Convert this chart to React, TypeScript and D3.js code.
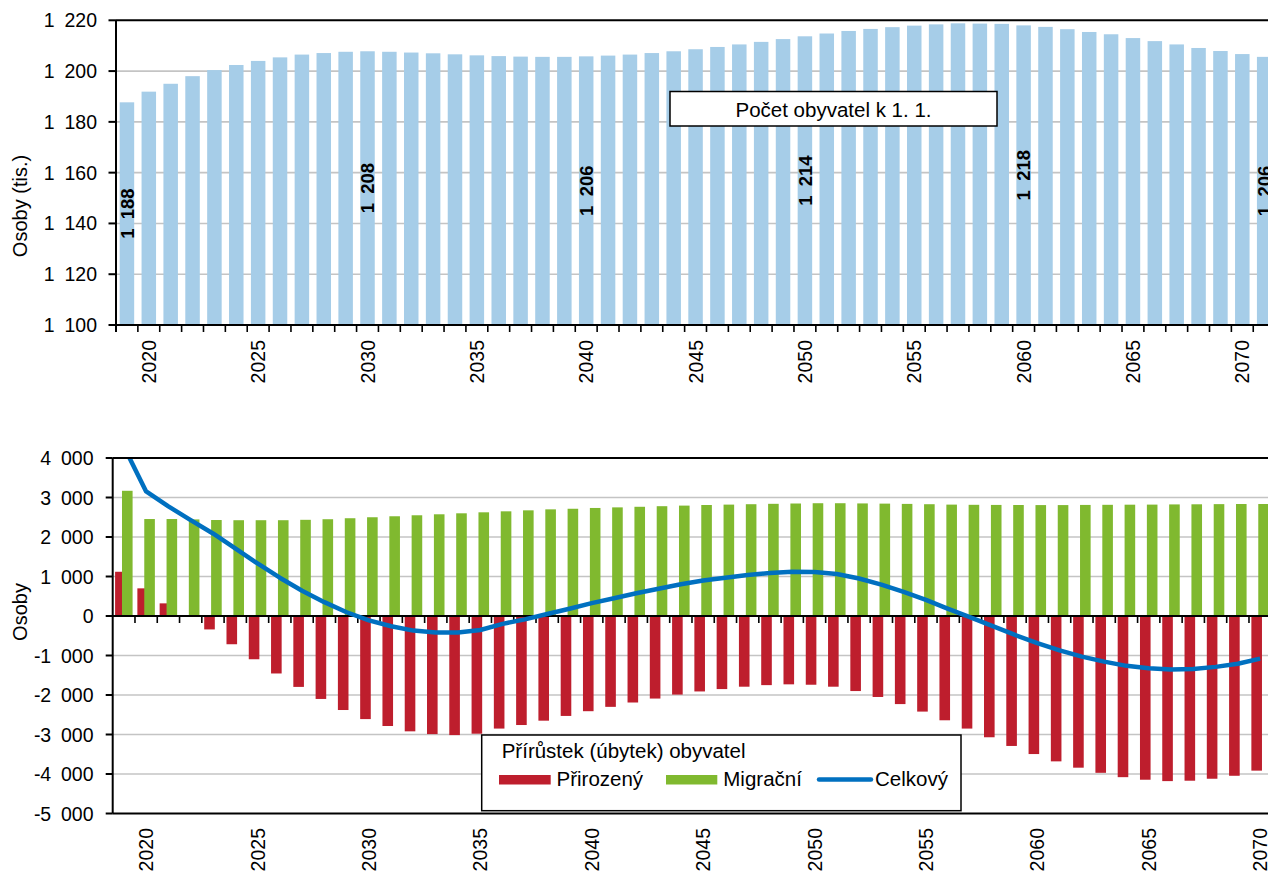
import React from 'react';
import * as d3 from 'd3';

// ---------- DATA ----------
const topYears = [2019, 2020, 2021, 2022, 2023, 2024, 2025, 2026, 2027, 2028, 2029, 2030, 2031, 2032, 2033, 2034, 2035, 2036, 2037, 2038, 2039, 2040, 2041, 2042, 2043, 2044, 2045, 2046, 2047, 2048, 2049, 2050, 2051, 2052, 2053, 2054, 2055, 2056, 2057, 2058, 2059, 2060, 2061, 2062, 2063, 2064, 2065, 2066, 2067, 2068, 2069, 2070, 2071];
// population on 1 Jan (thousands)
const population = [1187.7, 1191.9, 1195.0, 1198.0, 1200.4, 1202.4, 1204.0, 1205.4, 1206.5, 1207.1, 1207.6, 1207.8, 1207.6, 1207.3, 1207.0, 1206.6, 1206.2, 1205.9, 1205.7, 1205.6, 1205.6, 1205.8, 1206.1, 1206.5, 1207.1, 1207.8, 1208.6, 1209.5, 1210.5, 1211.5, 1212.6, 1213.7, 1214.8, 1215.8, 1216.6, 1217.3, 1217.9, 1218.4, 1218.8, 1218.7, 1218.6, 1218.0, 1217.4, 1216.5, 1215.4, 1214.5, 1213.0, 1211.8, 1210.5, 1209.1, 1207.9, 1206.7, 1205.6];
const labelledYears = [2019, 2030, 2040, 2050, 2060, 2071];
const topTicks = [1100, 1120, 1140, 1160, 1180, 1200, 1220];

const bottomYears = [2019, 2020, 2021, 2022, 2023, 2024, 2025, 2026, 2027, 2028, 2029, 2030, 2031, 2032, 2033, 2034, 2035, 2036, 2037, 2038, 2039, 2040, 2041, 2042, 2043, 2044, 2045, 2046, 2047, 2048, 2049, 2050, 2051, 2052, 2053, 2054, 2055, 2056, 2057, 2058, 2059, 2060, 2061, 2062, 2063, 2064, 2065, 2066, 2067, 2068, 2069, 2070];
const naturalChange = [1120, 700, 320, -20, -340, -715, -1095, -1455, -1795, -2100, -2380, -2610, -2785, -2920, -2990, -3015, -2980, -2850, -2760, -2650, -2530, -2410, -2300, -2190, -2090, -1990, -1910, -1850, -1790, -1750, -1730, -1740, -1790, -1900, -2050, -2230, -2420, -2640, -2850, -3070, -3290, -3495, -3680, -3840, -3970, -4080, -4145, -4180, -4170, -4120, -4045, -3915];
const migrationChange = [3170, 2455, 2455, 2445, 2430, 2425, 2425, 2425, 2435, 2450, 2475, 2500, 2525, 2550, 2575, 2600, 2625, 2650, 2675, 2700, 2715, 2735, 2750, 2765, 2780, 2795, 2810, 2820, 2830, 2840, 2848, 2855, 2855, 2850, 2845, 2838, 2830, 2820, 2815, 2812, 2810, 2808, 2808, 2812, 2815, 2818, 2820, 2825, 2828, 2832, 2835, 2835];
const totalChange = [4290, 3155, 2775, 2425, 2090, 1710, 1330, 970, 640, 350, 95, -110, -260, -370, -415, -415, -355, -200, -85, 50, 185, 325, 450, 575, 690, 805, 900, 970, 1040, 1090, 1118, 1115, 1065, 950, 795, 608, 410, 180, -35, -258, -480, -687, -872, -1028, -1155, -1262, -1325, -1355, -1342, -1288, -1210, -1080];
const bottomTicks = [-5000, -4000, -3000, -2000, -1000, 0, 1000, 2000, 3000, 4000];
const axisYears = [2020, 2025, 2030, 2035, 2040, 2045, 2050, 2055, 2060, 2065, 2070];

const FONT = "'Liberation Sans', Arial, Helvetica, sans-serif";
const SEP = '\u2002';
const fmt = (v: number) => {
  const s = d3.format(',')(Math.round(v));
  return s.replace(/,/g, SEP).replace(/\u2212/g, '-');
};

const C_BLUE_BAR = '#a6cde8';
const C_RED = '#be1e2d';
const C_GREEN = '#80b92f';
const C_LINE = '#0070c0';
const C_GRID = '#c4c4c4';

export default function App() {
  // ---- top chart scales ----
  const tLeft = 116, tTop = 20.3, tBottom = 325;
  const tBand = 21.87;
  const xTop = d3.scaleBand<number>().domain(topYears).range([tLeft, tLeft + tBand * topYears.length]).padding(0);
  const yTop = d3.scaleLinear().domain([1100, 1220]).range([tBottom, tTop]);
  const topBarW = 14.5;

  // ---- bottom chart scales ----
  const bLeft = 112.7, bTop = 458, bBottom = 813.5;
  const bBand = 22.28;
  const xBot = d3.scaleBand<number>().domain(bottomYears).range([bLeft, bLeft + bBand * bottomYears.length]).padding(0);
  const yBot = d3.scaleLinear().domain([-5000, 4000]).range([bBottom, bTop]);
  const subW = 10.6;
  const subOff = 3.45;

  const cxTop = (yr: number) => (xTop(yr) as number) + xTop.bandwidth() / 2;
  const cxBot = (yr: number) => (xBot(yr) as number) + xBot.bandwidth() / 2;

  const line = d3.line<number>()
    .x((_, i) => cxBot(bottomYears[i]))
    .y((d) => yBot(d));

  const tRight = 1268;
  const bRight = 1268;

  return (
    <svg width={1268} height={874} style={{ position: 'absolute', left: 0, top: 0, display: 'block', background: '#fff' }} fontFamily={FONT}>
      <defs>
        <clipPath id="botClip">
          <rect x={bLeft} y={bTop} width={1300} height={bBottom - bTop} />
        </clipPath>
      </defs>

      {/* ================= TOP CHART ================= */}
      {topTicks.filter(t => t !== 1100 && t !== 1220).map(t => (
        <line key={'tg' + t} x1={tLeft} x2={tRight} y1={yTop(t)} y2={yTop(t)} stroke={C_GRID} strokeWidth={1.6} />
      ))}
      {topYears.map((yr, i) => (
        <rect key={'tb' + yr} x={cxTop(yr) - topBarW / 2} y={yTop(population[i])} width={topBarW} height={yTop(1100) - yTop(population[i])} fill={C_BLUE_BAR} />
      ))}
      {/* plot border */}
      <line x1={tLeft} x2={tRight} y1={tTop} y2={tTop} stroke="#000" strokeWidth={2} />
      <line x1={tLeft} x2={tRight} y1={tBottom} y2={tBottom} stroke="#000" strokeWidth={2} />
      <line x1={tLeft} x2={tLeft} y1={tTop} y2={tBottom + 7} stroke="#000" strokeWidth={2} />
      {/* y ticks */}
      {topTicks.map(t => (
        <g key={'tyt' + t}>
          <line x1={tLeft - 7.5} x2={tLeft} y1={yTop(t)} y2={yTop(t)} stroke="#000" strokeWidth={2} />
          <text x={97} y={yTop(t)} dy="0.36em" textAnchor="end" fontSize={19.5} fill="#000">{fmt(t)}</text>
        </g>
      ))}
      {/* x ticks */}
      {topYears.map(yr => (
        <line key={'txt' + yr} x1={(xTop(yr) as number) + tBand} x2={(xTop(yr) as number) + tBand} y1={tBottom} y2={tBottom + 7} stroke="#000" strokeWidth={1.6} />
      ))}
      {axisYears.map(yr => (
        <text key={'txl' + yr} transform={`translate(${cxTop(yr)},340) rotate(-90)`} textAnchor="end" dy="0.36em" fontSize={19.5} fill="#000">{yr}</text>
      ))}
      {/* data labels */}
      {labelledYears.map(yr => {
        const i = topYears.indexOf(yr);
        const v = population[i];
        const yc = (yTop(v) + yTop(1100)) / 2;
        return (
          <text key={'dl' + yr} transform={`translate(${cxTop(yr)},${yc}) rotate(-90)`} textAnchor="middle" dy="0.36em" fontSize={18.5} fontWeight="bold" fill="#000">{fmt(v)}</text>
        );
      })}
      {/* y title */}
      <text transform="translate(27,206) rotate(-90)" textAnchor="middle" fontSize={20} fill="#000">Osoby (tis.)</text>
      {/* legend */}
      <rect x={670} y={91.5} width={327} height={34.5} fill="#fff" stroke="#000" strokeWidth={1.5} />
      <text x={833.5} y={117} textAnchor="middle" fontSize={20.5} fill="#000">Počet obyvatel k 1. 1.</text>

      {/* ================= BOTTOM CHART ================= */}
      {bottomTicks.filter(t => t !== -5000 && t !== 4000 && t !== 0).map(t => (
        <line key={'bg' + t} x1={bLeft} x2={bRight} y1={yBot(t)} y2={yBot(t)} stroke={C_GRID} strokeWidth={1.6} />
      ))}
      {bottomYears.map((yr, i) => {
        const cx = cxBot(yr);
        const v = naturalChange[i];
        return (
          <rect key={'rn' + yr} x={cx - subOff - subW / 2} y={Math.min(yBot(v), yBot(0))} width={subW} height={Math.abs(yBot(v) - yBot(0))} fill={C_RED} />
        );
      })}
      {bottomYears.map((yr, i) => {
        const cx = cxBot(yr);
        const v = migrationChange[i];
        return (
          <rect key={'rm' + yr} x={cx + subOff - subW / 2} y={Math.min(yBot(v), yBot(0))} width={subW} height={Math.abs(yBot(v) - yBot(0))} fill={C_GREEN} />
        );
      })}
      {/* zero axis with ticks */}
      <line x1={bLeft} x2={bRight} y1={yBot(0)} y2={yBot(0)} stroke="#000" strokeWidth={2} />
      {bottomYears.map(yr => (
        <line key={'bxt' + yr} x1={(xBot(yr) as number) + bBand} x2={(xBot(yr) as number) + bBand} y1={yBot(0)} y2={yBot(0) + 7} stroke="#000" strokeWidth={1.6} />
      ))}
      {/* total line */}
      <path d={line(totalChange) || ''} fill="none" stroke={C_LINE} strokeWidth={4.5} strokeLinejoin="round" clipPath="url(#botClip)" />
      {/* border */}
      <line x1={bLeft} x2={bRight} y1={bTop} y2={bTop} stroke="#000" strokeWidth={2} />
      <line x1={bLeft} x2={bRight} y1={bBottom} y2={bBottom} stroke="#000" strokeWidth={2} />
      <line x1={bLeft} x2={bLeft} y1={bTop} y2={bBottom} stroke="#000" strokeWidth={2} />
      {bottomTicks.map(t => (
        <g key={'byt' + t}>
          <line x1={bLeft - 7} x2={bLeft} y1={yBot(t)} y2={yBot(t)} stroke="#000" strokeWidth={2} />
          <text x={93.5} y={yBot(t)} dy="0.36em" textAnchor="end" fontSize={19.5} fill="#000">{fmt(t)}</text>
        </g>
      ))}
      {axisYears.map(yr => (
        <text key={'bxl' + yr} transform={`translate(${cxBot(yr)},828) rotate(-90)`} textAnchor="end" dy="0.36em" fontSize={19.5} fill="#000">{yr}</text>
      ))}
      <text transform="translate(27,612) rotate(-90)" textAnchor="middle" fontSize={20} fill="#000">Osoby</text>

      {/* legend */}
      <rect x={481.7} y={735} width={479.3} height={75.7} fill="#fff" stroke="#000" strokeWidth={1.5} />
      <text x={501.7} y={758.3} fontSize={20.5} fill="#000">Přírůstek (úbytek) obyvatel</text>
      <rect x={499} y={775} width={51.7} height={9.5} fill={C_RED} />
      <text x={556.5} y={786} fontSize={20.5} fill="#000">Přirozený</text>
      <rect x={666} y={775} width={51.3} height={9.5} fill={C_GREEN} />
      <text x={723.3} y={786} fontSize={20.5} fill="#000">Migrační</text>
      <line x1={819} x2={871} y1={779.5} y2={779.5} stroke={C_LINE} strokeWidth={4.5} strokeLinecap="round" />
      <text x={875} y={786} fontSize={20.5} fill="#000">Celkový</text>
    </svg>
  );
}
